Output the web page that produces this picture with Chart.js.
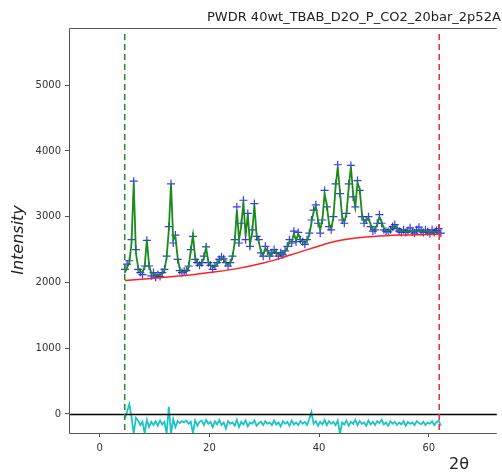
<!DOCTYPE html>
<html lang="en">
<head>
<meta charset="UTF-8">
<title>PWDR 40wt_TBAB_D2O_P_CO2_20bar_2p52A</title>
<script src="https://cdn.jsdelivr.net/npm/chart.js"></script>
<style>
  html, body { margin: 0; padding: 0; background: #fff; overflow: hidden; }
  #wrap { position: relative; width: 502px; height: 473px; }
</style>
</head>
<body>
<div id="wrap"><canvas id="plot"></canvas></div>
<script>
// 2-theta grid (deg)
const twoTheta = [4.6,5.0,5.4,5.8,6.2,6.6,7.0,7.4,7.8,8.2,8.6,9.0,9.4,9.8,10.2,10.6,11.0,11.4,11.8,12.2,
  12.6,13.0,13.4,13.8,14.2,14.6,15.0,15.4,15.8,16.2,16.6,17.0,17.4,17.8,18.2,18.6,19.0,19.4,19.8,20.2,
  20.6,21.0,21.4,21.8,22.2,22.6,23.0,23.4,23.8,24.2,24.6,25.0,25.4,25.8,26.2,26.6,27.0,27.4,27.8,28.2,
  28.6,29.0,29.4,29.8,30.2,30.6,31.0,31.4,31.8,32.2,32.6,33.0,33.4,33.8,34.2,34.6,35.0,35.4,35.8,36.2,
  36.6,37.0,37.4,37.8,38.2,38.6,39.0,39.4,39.8,40.2,40.6,41.0,41.4,41.8,42.2,42.6,43.0,43.4,43.8,44.2,
  44.6,45.0,45.4,45.8,46.2,46.6,47.0,47.4,47.8,48.2,48.6,49.0,49.4,49.8,50.2,50.6,51.0,51.4,51.8,52.2,
  52.6,53.0,53.4,53.8,54.2,54.6,55.0,55.4,55.8,56.2,56.6,57.0,57.4,57.8,58.2,58.6,59.0,59.4,59.8,60.2,
  60.6,61.0,61.4,61.8,62.2];

// observed intensity
const obsInt = [2200,2280,2330,2650,3540,2500,2200,2150,2120,2250,2640,2250,2100,2150,2080,2120,2090,2150,2200,2400,
  2850,3500,2600,2720,2350,2180,2150,2170,2180,2250,2500,2700,2350,2300,2260,2300,2400,2540,2300,2260,
  2200,2250,2300,2350,2390,2360,2300,2250,2300,2400,2650,3150,2600,2900,3250,2650,3050,2550,2800,3200,
  2700,2650,2450,2400,2550,2480,2400,2450,2500,2450,2400,2450,2420,2480,2550,2650,2600,2780,2620,2760,
  2650,2620,2580,2650,2750,2950,3100,3180,2900,2750,2950,3400,3150,2850,2800,3000,3500,3790,3350,2950,
  2900,3050,3500,3780,3300,3150,3550,3400,3000,2900,2950,3000,2850,2780,2800,2900,3030,2900,2800,2780,
  2770,2800,2850,2880,2820,2780,2760,2800,2760,2790,2830,2770,2750,2800,2840,2780,2760,2800,2770,2740,
  2800,2760,2790,2820,2750];

// calculated intensity
const calcInt = [2150,2230,2300,2600,3520,2450,2230,2170,2150,2250,2650,2260,2140,2130,2120,2110,2110,2130,2180,2380,
  2800,3500,2650,2700,2380,2200,2160,2160,2180,2230,2480,2720,2380,2300,2270,2290,2380,2530,2320,2260,
  2230,2240,2280,2330,2370,2350,2300,2270,2300,2380,2600,3100,2650,2850,3230,2700,3040,2580,2750,3180,
  2720,2620,2470,2420,2520,2480,2410,2440,2480,2460,2420,2440,2430,2470,2530,2620,2620,2740,2640,2740,
  2660,2620,2600,2640,2720,2900,3080,3160,2950,2800,2950,3350,3180,2900,2820,2980,3450,3760,3380,3000,
  2920,3050,3450,3760,3350,3150,3520,3420,3050,2920,2950,2980,2880,2800,2810,2880,3000,2920,2820,2790,
  2780,2800,2840,2860,2830,2790,2770,2780,2770,2780,2790,2780,2770,2780,2790,2780,2770,2780,2770,2770,
  2770,2770,2770,2770,2760];

// difference curve (offset below zero)
const diffInt = [-60,40,150,-50,-300,-60,-100,-170,-120,-290,-90,-200,-120,-170,-110,-180,-100,-160,-120,-300,
  110,-300,-80,-200,-110,-140,-110,-130,-100,-150,-120,-290,-100,-180,-120,-100,-170,-90,-150,-120,
  -200,-110,-160,-90,-170,-130,-220,-110,-150,-130,-180,-90,-200,-120,-160,-100,-190,-130,-150,-100,
  -180,-140,-120,-170,-110,-150,-130,-170,-100,-160,-130,-190,-110,-150,-120,-180,-100,-160,-130,-170,
  -110,-150,-120,-170,-80,30,-150,-110,-180,-120,-160,-90,-170,-110,-150,-120,-170,-100,-300,-130,
  -160,-100,-180,-120,-150,-90,-170,-110,-150,-130,-180,-100,-160,-120,-170,-110,-140,-90,-160,-130,
  -180,-110,-150,-120,-170,-130,-160,-110,-180,-120,-150,-130,-170,-110,-140,-160,-120,-170,-130,-150,
  -110,-170,-130,-100,-180];

// background
const bkgTheta = [4.6, 10, 15, 20, 25, 30, 33, 36, 40, 43, 46, 50, 55, 62.2];
const bkgInt = [2030, 2065, 2100, 2150, 2210, 2300, 2370, 2450, 2555, 2625, 2670, 2700, 2720, 2735];

// refinement limits
const limLow = 4.56;
const limHigh = 61.9;

const xTicks = [0, 20, 40, 60];
const yTicks = [0, 1000, 2000, 3000, 4000, 5000];

const titleText = 'PWDR 40wt_TBAB_D2O_P_CO2_20bar_2p52A';

const pts = (xs, ys) => xs.map((x, i) => ({ x: x, y: ys[i] }));

const decorations = {
  id: 'decorations',
  afterDatasetsDraw(chart) {
    const { ctx, chartArea: a, scales: { x, y } } = chart;
    ctx.save();
    // zero line
    ctx.strokeStyle = '#000';
    ctx.lineWidth = 1.3;
    ctx.beginPath();
    ctx.moveTo(a.left, Math.round(y.getPixelForValue(0)) + 0.5);
    ctx.lineTo(a.right, Math.round(y.getPixelForValue(0)) + 0.5);
    ctx.stroke();
    // limit lines
    ctx.lineWidth = 1.5;
    ctx.setLineDash([6, 4]);
    [[limLow, '#228b22'], [limHigh, '#e03030']].forEach(([v, c]) => {
      const px = x.getPixelForValue(v);
      ctx.strokeStyle = c;
      ctx.beginPath();
      ctx.moveTo(px, a.top + 6);
      ctx.lineTo(px, a.bottom);
      ctx.stroke();
    });
    ctx.setLineDash([]);
    // frame
    ctx.strokeStyle = '#555';
    ctx.lineWidth = 1;
    ctx.beginPath();
    ctx.moveTo(a.right, a.top + 0.5);
    ctx.lineTo(a.left + 0.5, a.top + 0.5);
    ctx.lineTo(a.left + 0.5, a.bottom + 0.5);
    ctx.lineTo(a.right, a.bottom + 0.5);
    ctx.stroke();
    // texts
    ctx.fillStyle = '#222';
    ctx.font = '13px "DejaVu Sans", sans-serif';
    ctx.textAlign = 'left';
    ctx.textBaseline = 'alphabetic';
    ctx.fillText(titleText, 207, 21);
    ctx.font = '16px "DejaVu Sans", sans-serif';
    ctx.textAlign = 'center';
    ctx.fillText('2θ', 459, 469);
    ctx.translate(23, 240);
    ctx.rotate(-Math.PI / 2);
    ctx.font = 'italic 16px "DejaVu Sans", sans-serif';
    ctx.fillText('Intensity', 0, 0);
    ctx.restore();
  }
};

new Chart(document.getElementById('plot'), {
  type: 'scatter',
  data: {
    datasets: [
      {
        label: 'obs',
        data: pts(twoTheta, obsInt),
        showLine: false,
        pointStyle: 'cross',
        pointRadius: 4,
        pointBorderWidth: 1.2,
        borderColor: 'rgba(20,20,255,0.85)',
        backgroundColor: 'rgba(20,20,255,0.85)',
        order: 3
      },
      {
        label: 'calc',
        data: pts(twoTheta, calcInt),
        showLine: true,
        pointRadius: 0,
        borderColor: '#1a8a1a',
        borderWidth: 1.8,
        order: 2
      },
      {
        label: 'bkg',
        data: pts(bkgTheta, bkgInt),
        showLine: true,
        pointRadius: 0,
        cubicInterpolationMode: 'monotone',
        borderColor: '#ff2020',
        borderWidth: 1.5,
        order: 1
      },
      {
        label: 'diff',
        data: pts(twoTheta, diffInt),
        showLine: true,
        pointRadius: 0,
        borderColor: '#1cc4c4',
        borderWidth: 1.8,
        order: 4
      }
    ]
  },
  options: {
    responsive: true,
    maintainAspectRatio: false,
    animation: false,
    events: [],
    layout: { padding: { top: 28, right: 0, left: 0, bottom: 0 } },
    plugins: { legend: { display: false }, tooltip: { enabled: false } },
    scales: {
      x: {
        type: 'linear',
        min: -5.6,
        max: 72.4,
        afterBuildTicks: s => { s.ticks = xTicks.map(v => ({ value: v })); },
        afterFit: s => { s.height = 40; },
        border: { display: false },
        grid: { drawOnChartArea: false, drawTicks: true, tickLength: 4, color: '#555' },
        ticks: { color: '#333', font: { size: 10, family: 'DejaVu Sans' }, padding: 5, maxRotation: 0,
          callback: v => String(v) }
      },
      y: {
        type: 'linear',
        min: -290,
        max: 5870,
        afterBuildTicks: s => { s.ticks = yTicks.map(v => ({ value: v })); },
        afterFit: s => { s.width = 69; },
        border: { display: false },
        grid: { drawOnChartArea: false, drawTicks: true, tickLength: 4, color: '#555' },
        ticks: { color: '#333', font: { size: 10, family: 'DejaVu Sans' }, padding: 4,
          callback: v => String(v) }
      }
    }
  },
  plugins: [decorations]
});
</script>
</body>
</html>
